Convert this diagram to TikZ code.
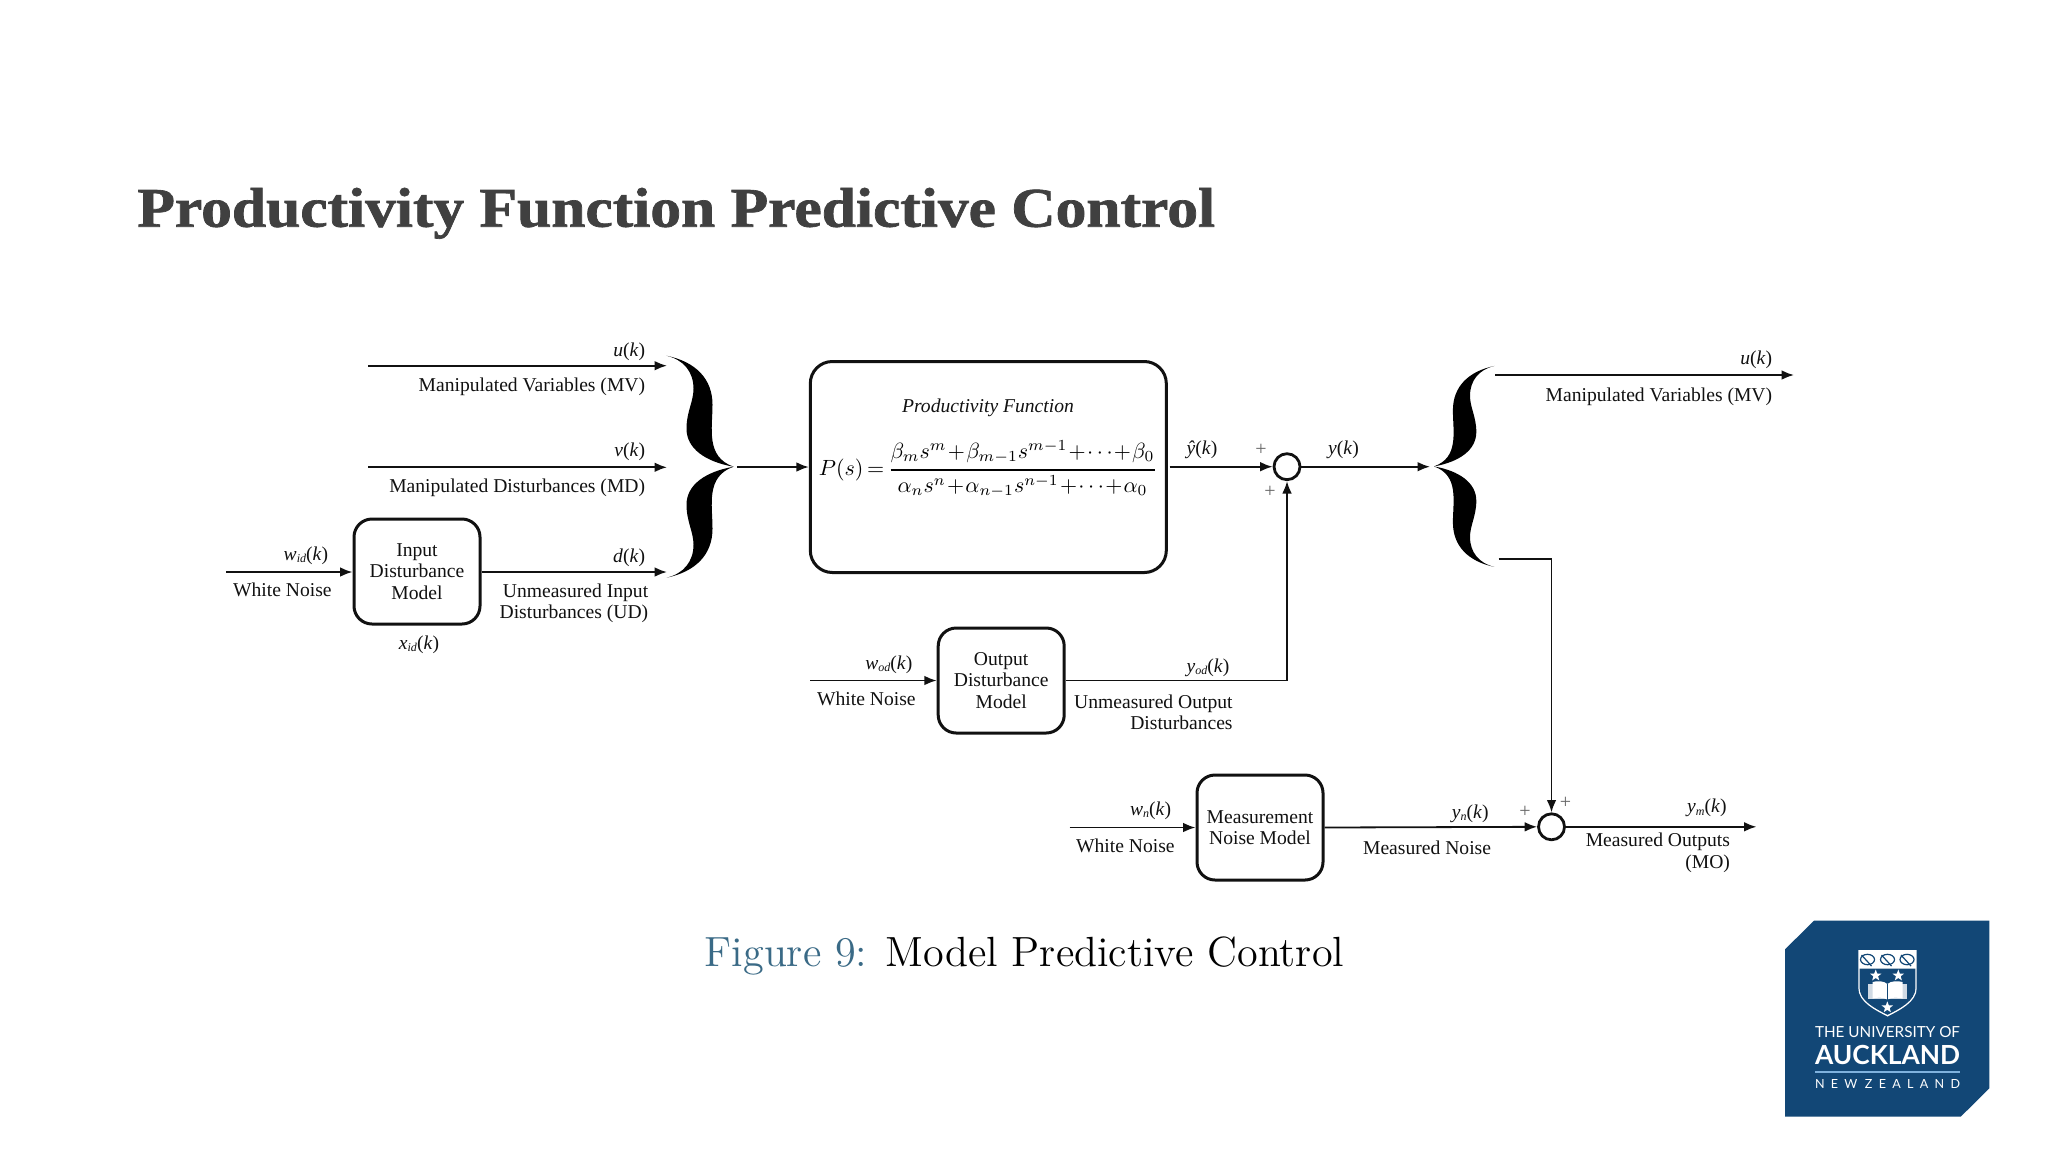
\documentclass[tikz,border=0pt]{standalone}
\usepackage{amsmath}
\usepackage{fontspec}
\usepackage{graphicx}
\usetikzlibrary{arrows.meta,shapes.geometric}
\newfontfamily\tmsfont{Liberation Serif}
\newfontfamily\ttlfont{Liberation Serif}[BoldFeatures={FakeBold=1.2}]
\newfontfamily\logofont{Lato}
\newfontfamily\logospaced{Lato}[LetterSpace=50]
\newfontfamily\capfont{lmroman12-regular}[Extension=.otf]
\newcommand{\sv}[2]{\textit{#1}\raisebox{-0.3ex}{\fontsize{6}{6}\selectfont\textit{#2}}(\textit{k})}
\newcommand{\pv}[1]{\textit{#1}(\textit{k})}
\definecolor{ink}{HTML}{111111}
\definecolor{ttl}{HTML}{404040}
\definecolor{figblue}{HTML}{3A6A86}
\definecolor{uoa}{HTML}{124776}
\definecolor{uoalight}{HTML}{7FB2DE}
\tikzset{
  arr/.style={draw=ink,line width=0.9pt,-{Latex[length=6.2pt,width=4.8pt]}},
  blk/.style={draw=ink,line width=1.5pt,rounded corners=9pt,inner sep=0pt,align=center,
     minimum width=63pt,minimum height=52.5pt,
     font=\tmsfont\fontsize{9.8}{10.8}\selectfont,text=ink},
  lab/.style={inner sep=0pt,text=ink,text height=7pt,text depth=2.2pt,yshift=-1.2pt,
     font=\tmsfont\fontsize{9.8}{10.8}\selectfont},
  var/.style={lab,yshift=0.6pt},
  lab2/.style={inner sep=0pt,text=ink,align=right,yshift=-0.4pt,
     font=\tmsfont\fontsize{9.8}{10.8}\selectfont},
  plus/.style={inner sep=0pt,text=black!60,font=\tmsfont\fontsize{10}{11}\selectfont},
  junction/.style={circle,draw=ink,line width=1.4pt,minimum size=13pt,inner sep=0pt},
  bigbrace/.pic={
    \foreach \ys in {1,-1}{
    \fill[black,yscale=\ys] (-67,-111) .. controls (-38,-105) and (-21,-88) .. (-21,-62)
      .. controls (-21,-38) and (-28,-10) .. (0,0)
      .. controls (-28,-5) and (-47,-18) .. (-47,-38)
      .. controls (-47,-55) and (-40,-65) .. (-40,-78)
      .. controls (-40,-95) and (-50,-107) .. (-67,-111) -- cycle;}
  },
}
\begin{document}
\begin{tikzpicture}[x=0.5pt,y=-0.5pt]
\fill[white] (0,0) rectangle (2048,1152);
\useasboundingbox (0,0) rectangle (2048,1152);

% title and caption
\node[anchor=base west,inner sep=0pt,text=ttl,font=\ttlfont\bfseries\fontsize{28}{32}\selectfont] (title) at (137,226.7) {\scalebox{1.098}[1]{Productivity Function Predictive Control}};
\node[anchor=base west,inner sep=0pt,font=\capfont\fontsize{21.1}{24}\selectfont] (caption) at (704.5,966.7) {\textcolor{figblue}{Figure 9:} Model Predictive Control};

% blocks
\node[blk] (idm) at (417,571.5) {Input\\Disturbance\\Model};
\node[blk,minimum width=178pt,minimum height=105.5pt,rounded corners=11pt] (pf) at (988.3,467) {};
\node[blk] (odm) at (1001.2,680.5) {Output\\Disturbance\\Model};
\node[blk] (mnm) at (1260,827.5) {Measurement\\Noise Model};
\node[junction] (s1) at (1287,466.7) {};
\node[junction] (s2) at (1551.5,826.8) {};

% block contents
\node[inner sep=0pt,text=ink,font=\tmsfont\itshape\fontsize{9.8}{10.8}\selectfont] (pftitle) at (988,408) {Productivity Function};
\node[inner sep=0pt,text=black] (pfeq) at (988,469) {\scalebox{1.1}{$\medmuskip=1mu\thickmuskip=3mu P(s)=\genfrac{}{}{0.8pt}{0}{\beta_m s^m+\beta_{m-1}s^{m-1}+\cdots+\beta_0}{\alpha_n s^n+\alpha_{n-1}s^{n-1}+\cdots+\alpha_0}$}};

% braces
\pic at (733.5,466.7) {bigbrace};
\pic[xscale=-0.9,yscale=0.905] at (1434,466.4) {bigbrace};

% free ends
\coordinate (uS) at (368,365.7); \coordinate (uE) at (667,365.7);
\coordinate (vS) at (368,467.3); \coordinate (vE) at (667,467.3);
\coordinate (dE) at (667,572);
\coordinate (wid) at (226,572);
\coordinate (lbr) at (737,467);
\coordinate (phat) at (1169.5,466.7);
\coordinate (rbr) at (1430,466.7);
\coordinate (uoS) at (1495,375); \coordinate (uoE) at (1794,375);
\coordinate (bot) at (1498.7,559.3);
\coordinate (wod) at (810,680.5);
\coordinate (wn) at (1069.7,827.5);
\coordinate (ymE) at (1756.5,826.8);

% connectors
\draw[arr] (uS) -- (uE);
\draw[arr] (vS) -- (vE);
\draw[arr] (idm.east |- dE) -- (dE);
\draw[arr] (wid) -- (idm.west |- wid);
\draw[arr] (lbr) -- (pf.west |- lbr);
\draw[arr] (phat) -- (s1.west);
\draw[arr] (s1.east) -- (rbr);
\draw[arr] (uoS) -- (uoE);
\draw[arr] (wod) -- (odm.west);
\draw[arr] (odm.east) -| (s1.south);
\draw[arr] (wn) -- (mnm.west);
\draw[arr] (mnm.east) -- (s2.west);
\draw[arr] (bot) -| (s2.north);
\draw[arr] (s2.east) -- (ymE);

% labels
\node[var,anchor=east] (l1) at (645.5,350) {\pv{u}};
\node[lab,anchor=east] (l2) at (645.5,384) {Manipulated Variables (MV)};
\node[var,anchor=east] (l3) at (645.5,450.7) {\pv{v}};
\node[lab,anchor=east] (l4) at (645.5,485) {Manipulated Disturbances (MD)};
\node[var,anchor=east] (l5) at (645.5,556.7) {\pv{d}};
\node[lab2,anchor=east] (l6) at (648.6,602.3) {Unmeasured Input\\Disturbances (UD)};
\node[var,anchor=east] (l7) at (328.6,554) {\sv{w}{id}};
\node[lab,anchor=east] (l8) at (332,589) {White Noise};
\node[var] (l9) at (419,643) {\sv{x}{id}};
\node[var] (l10) at (1202,448) {\pv{ŷ}};
\node[var] (l11) at (1343.6,448) {\pv{y}};
\node[plus] (p1) at (1261,450) {+};
\node[plus] (p2) at (1270,491.7) {+};
\node[var,anchor=east] (l12) at (912.8,663) {\sv{w}{od}};
\node[lab,anchor=east] (l13) at (916,698) {White Noise};
\node[var,anchor=east] (l14) at (1229.7,666) {\sv{y}{od}};
\node[lab2,anchor=east] (l15) at (1233,711.5) {Unmeasured Output\\Disturbances};
\node[var,anchor=east] (l16) at (1772.5,358.6) {\pv{u}};
\node[lab,anchor=east] (l17) at (1772.5,394) {Manipulated Variables (MV)};
\node[var,anchor=east] (l18) at (1171.5,809) {\sv{w}{n}};
\node[lab,anchor=east] (l19) at (1175,845) {White Noise};
\node[var,anchor=east] (l20) at (1489,812) {\sv{y}{n}};
\node[lab,anchor=east] (l21) at (1491.4,847) {Measured Noise};
\node[plus] (p3) at (1525,812) {+};
\node[plus] (p4) at (1565.6,802.5) {+};
\node[var,anchor=east] (l22) at (1727,806.4) {\sv{y}{m}};
\node[lab2,anchor=east] (l23) at (1730.4,852) {Measured Outputs\\(MO)};

% logo
\fill[uoa] (1785,949.3) -- (1814,920.7) -- (1989.3,920.7) -- (1989.3,1088.3) -- (1960.7,1116.7) -- (1785,1116.7) -- cycle;
\fill[white] (1858.3,950) -- (1916.7,950) -- (1916.7,988) .. controls (1916.7,1002) and (1900,1010) .. (1887.5,1016.5) .. controls (1875,1010) and (1858.3,1002) .. (1858.3,988) -- cycle;
\fill[uoa] (1859.6,968.5) -- (1915.4,968.5) -- (1915.4,988) .. controls (1915.4,1001) and (1899,1009) .. (1887.5,1014.8) .. controls (1876,1009) and (1859.6,1001) .. (1859.6,988) -- cycle;
\foreach \cx in {1867.5,1887.5,1907}{
  \draw[uoa,line width=0.6pt] (\cx,959.5) ellipse (7 and 5.2);
  \draw[uoa,line width=0.6pt] (\cx-6,955) -- (\cx+4,966);
}
\node[star,star points=5,star point ratio=2.4,fill=white,inner sep=0pt,minimum size=6pt] (st1) at (1875.7,975.5) {};
\node[star,star points=5,star point ratio=2.4,fill=white,inner sep=0pt,minimum size=6pt] (st2) at (1898.3,975.5) {};
\node[star,star points=5,star point ratio=2.4,fill=white,inner sep=0pt,minimum size=6pt] (st3) at (1887.3,1007.3) {};
\fill[white!80!uoa] (1868.3,983.5) rectangle (1906.7,998.5);
\fill[white] (1872.5,982) .. controls (1878,980.5) and (1884,981) .. (1887.3,984) .. controls (1891,981) and (1897,980.5) .. (1902.5,982) -- (1902.5,998.5) .. controls (1897,997) and (1891,997.5) .. (1887.3,999.5) .. controls (1884,997.5) and (1878,997) .. (1872.5,998.5) -- cycle;
\draw[uoa,line width=0.4pt] (1887.3,984) -- (1887.3,999.5);
\node[inner sep=0pt,text=white] (lg1) at (1887.5,1031.7) {\resizebox{72.5pt}{!}{\logofont THE UNIVERSITY OF}};
\node[inner sep=0pt,text=white] (lg2) at (1887.5,1055) {\resizebox{72.5pt}{!}{\logofont\bfseries AUCKLAND}};
\draw[uoalight,line width=0.7pt] (1815,1072) -- (1960,1072);
\node[inner sep=0pt,text=white] (lg3) at (1887.5,1083.7) {\resizebox{72.5pt}{!}{\logospaced NEW\hspace{0.6em}ZEALAND}};
\end{tikzpicture}
\end{document}
